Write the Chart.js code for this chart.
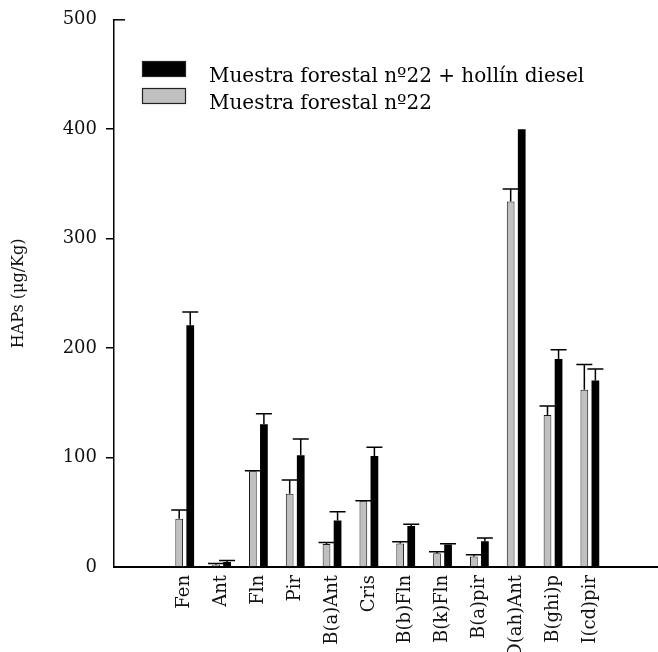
<!DOCTYPE html>
<html>
<head>
<meta charset="utf-8">
<script src="https://cdn.jsdelivr.net/npm/chart.js@4/dist/chart.umd.min.js"></script>
<style>
  html, body { margin: 0; padding: 0; background: #fff; }
  #wrap { width: 658px; height: 652px; position: relative; }
</style>
</head>
<body>
<div id="wrap"><canvas id="c"></canvas></div>
<script>
// PAH compounds (abbreviated names)
const categories = ['Fen', 'Ant', 'Fln', 'Pir', 'B(a)Ant', 'Cris', 'B(b)Fln', 'B(k)Fln', 'B(a)pir', 'D(ah)Ant', 'B(ghi)p', 'I(cd)pir'];

// Forest sample nº22 (µg/Kg) and its upper error
const forestValues = [44, 2, 87.5, 67, 21, 60, 21.5, 12.5, 9.5, 334, 139, 162];
const forestErrors = [8, 1.3, 0.5, 12.5, 1.5, 0.6, 1.5, 1.5, 1.8, 11.5, 8, 23];

// Forest sample nº22 + diesel soot (µg/Kg) and its upper error
const sootValues = [221, 4.5, 130.5, 102, 42.5, 101.5, 37.5, 20.5, 23.5, 400, 190, 170.5];
const sootErrors = [12, 1.5, 9.5, 15, 8, 8, 1.5, 0.7, 3, null, 8.5, 10.5];

const yTicks = [0, 100, 200, 300, 400, 500];

const seriesLabels = ['Muestra forestal nº22', 'Muestra forestal nº22 + hollín diesel'];

const FONT = "'DejaVu Serif', serif";

// Upper error whiskers with a horizontal cap
const errorBars = {
  id: 'errorBars',
  afterDatasetsDraw(chart) {
    const ctx = chart.ctx;
    const y = chart.scales.y;
    const errs = [forestErrors, sootErrors];
    chart.data.datasets.forEach((ds, di) => {
      const meta = chart.getDatasetMeta(di);
      meta.data.forEach((bar, i) => {
        const e = errs[di][i];
        if (e === null || e === undefined) return;
        const top = y.getPixelForValue(ds.data[i].y);
        const capY = y.getPixelForValue(ds.data[i].y + e);
        ctx.save();
        ctx.strokeStyle = '#000';
        ctx.lineWidth = 1.5;
        ctx.beginPath();
        ctx.moveTo(bar.x, top);
        ctx.lineTo(bar.x, capY);
        ctx.moveTo(bar.x - 8, capY);
        ctx.lineTo(bar.x + 8, capY);
        ctx.stroke();
        ctx.restore();
      });
    });
  }
};

// Short inward mark closing the top of the value axis
const axisTopMark = {
  id: 'axisTopMark',
  afterDraw(chart) {
    const y = chart.scales.y;
    const ctx = chart.ctx;
    const py = y.getPixelForValue(yTicks[yTicks.length - 1]);
    ctx.save();
    ctx.strokeStyle = '#000';
    ctx.lineWidth = 1.5;
    ctx.beginPath();
    ctx.moveTo(y.right, py);
    ctx.lineTo(y.right + 11, py);
    ctx.stroke();
    ctx.restore();
  }
};

// Legend drawn inside the plot area, soot series listed first
const innerLegend = {
  id: 'innerLegend',
  afterDraw(chart) {
    const ctx = chart.ctx;
    const order = [1, 0];
    ctx.save();
    ctx.font = "20px " + FONT;
    ctx.textBaseline = 'alphabetic';
    order.forEach((di, row) => {
      const ds = chart.data.datasets[di];
      const bx = 142, by = 61 + row * 27, bw = 44, bh = 16;
      ctx.fillStyle = ds.backgroundColor;
      ctx.fillRect(bx, by, bw, bh);
      ctx.strokeStyle = '#222';
      ctx.lineWidth = 1.2;
      ctx.strokeRect(bx + 0.5, by + 0.5, bw - 1, bh - 1);
      ctx.fillStyle = '#000';
      ctx.fillText(ds.label, 209, by + 21);
    });
    ctx.restore();
  }
};

new Chart(document.getElementById('c'), {
  type: 'bar',
  data: {
    datasets: [
      {
        label: seriesLabels[0],
        data: forestValues.map((v, i) => ({ x: i, y: v })),
        backgroundColor: '#c0c0c0',
        borderColor: '#1a1a1a',
        borderWidth: 1,
        borderSkipped: 'bottom',
        categoryPercentage: 0.6,
        barPercentage: 0.7
      },
      {
        label: seriesLabels[1],
        data: sootValues.map((v, i) => ({ x: i, y: v })),
        backgroundColor: '#000000',
        borderWidth: 0,
        categoryPercentage: 0.6,
        barPercentage: 0.7
      }
    ]
  },
  options: {
    responsive: true,
    maintainAspectRatio: false,
    animation: false,
    layout: { padding: { top: 16, right: 0, left: 0, bottom: 0 } },
    plugins: {
      legend: { display: false },
      tooltip: { enabled: false }
    },
    scales: {
      x: {
        type: 'linear',
        offset: false,
        min: -1.92,
        max: 12.85,
        afterBuildTicks: s => { s.ticks = categories.map((_, i) => ({ value: i })); },
        afterFit: s => { s.height = 85; },
        grid: { display: false },
        border: { display: true, color: '#000', width: 2 },
        ticks: {
          autoSkip: false,
          minRotation: 90,
          maxRotation: 90,
          padding: 0,
          color: '#111',
          font: { family: FONT, size: 18 },
          callback: v => categories[v]
        }
      },
      y: {
        min: 0,
        max: 500,
        afterBuildTicks: s => { s.ticks = yTicks.map(v => ({ value: v })); },
        afterFit: s => { s.width = 114; },
        border: { display: true, color: '#000', width: 1.5 },
        grid: {
          drawOnChartArea: false,
          drawTicks: true,
          tickLength: 8,
          lineWidth: 1.5,
          color: c => (c.tick && (c.tick.value === 0 || c.tick.value === 500)) ? 'rgba(0,0,0,0)' : '#000'
        },
        ticks: {
          padding: 9,
          color: '#111',
          font: { family: FONT, size: 18 }
        },
        title: {
          display: true,
          text: 'HAPs (μg/Kg)',
          color: '#111',
          font: { family: FONT, size: 16 },
          padding: { top: 9, bottom: 0 }
        }
      }
    }
  },
  plugins: [errorBars, axisTopMark, innerLegend]
});
</script>
</body>
</html>
